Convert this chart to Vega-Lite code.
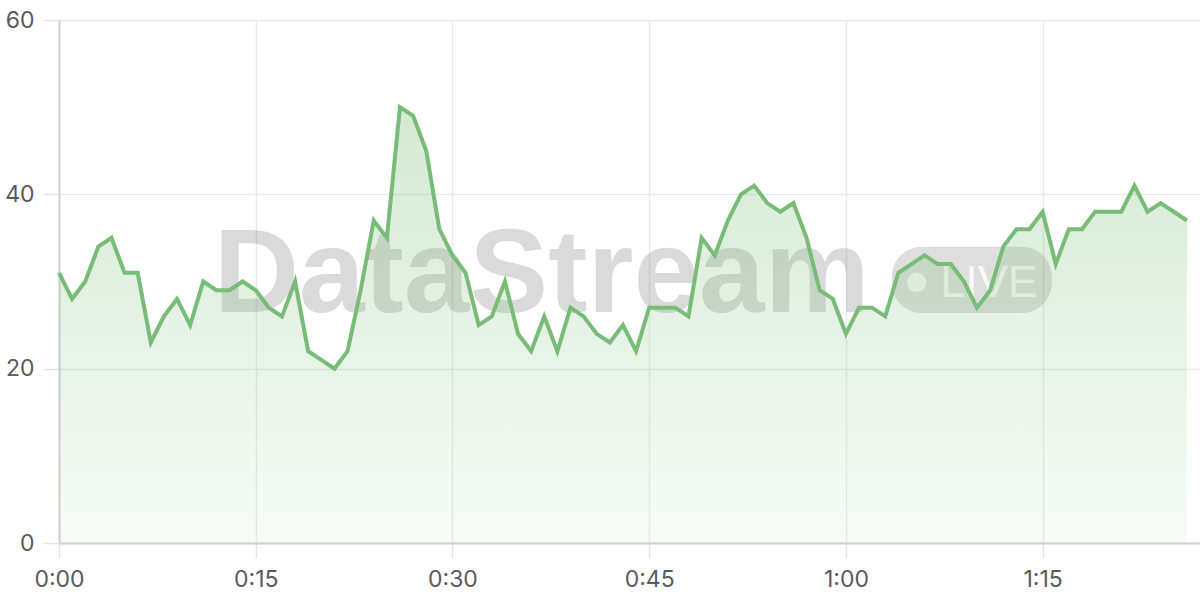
{
  "$schema": "https://vega.github.io/schema/vega-lite/v6.json",
  "width": 1141,
  "height": 523,
  "autosize": "none",
  "padding": {"left": 59, "top": 20, "right": 0, "bottom": 57},
  "background": "white",
  "config": {
    "view": {"stroke": null},
    "axis": {
      "labelFont": "Inter",
      "labelFontSize": 23,
      "labelColor": "#5a5a5a",
      "gridColor": "#ebebeb",
      "gridWidth": 1.5,
      "tickColor": "#e4e4e4",
      "tickWidth": 1.5,
      "domainColor": "#d2d2d2",
      "domainWidth": 2
    }
  },
  "data": {"values": [
    {"minute": 0, "value": 31}, {"minute": 1, "value": 28}, {"minute": 2, "value": 30}, {"minute": 3, "value": 34}, {"minute": 4, "value": 35},
    {"minute": 5, "value": 31}, {"minute": 6, "value": 31}, {"minute": 7, "value": 23}, {"minute": 8, "value": 26}, {"minute": 9, "value": 28},
    {"minute": 10, "value": 25}, {"minute": 11, "value": 30}, {"minute": 12, "value": 29}, {"minute": 13, "value": 29}, {"minute": 14, "value": 30},
    {"minute": 15, "value": 29}, {"minute": 16, "value": 27}, {"minute": 17, "value": 26}, {"minute": 18, "value": 30}, {"minute": 19, "value": 22},
    {"minute": 20, "value": 21}, {"minute": 21, "value": 20}, {"minute": 22, "value": 22}, {"minute": 23, "value": 29}, {"minute": 24, "value": 37},
    {"minute": 25, "value": 35}, {"minute": 26, "value": 50}, {"minute": 27, "value": 49}, {"minute": 28, "value": 45}, {"minute": 29, "value": 36},
    {"minute": 30, "value": 33}, {"minute": 31, "value": 31}, {"minute": 32, "value": 25}, {"minute": 33, "value": 26}, {"minute": 34, "value": 30},
    {"minute": 35, "value": 24}, {"minute": 36, "value": 22}, {"minute": 37, "value": 26}, {"minute": 38, "value": 22}, {"minute": 39, "value": 27},
    {"minute": 40, "value": 26}, {"minute": 41, "value": 24}, {"minute": 42, "value": 23}, {"minute": 43, "value": 25}, {"minute": 44, "value": 22},
    {"minute": 45, "value": 27}, {"minute": 46, "value": 27}, {"minute": 47, "value": 27}, {"minute": 48, "value": 26}, {"minute": 49, "value": 35},
    {"minute": 50, "value": 33}, {"minute": 51, "value": 37}, {"minute": 52, "value": 40}, {"minute": 53, "value": 41}, {"minute": 54, "value": 39},
    {"minute": 55, "value": 38}, {"minute": 56, "value": 39}, {"minute": 57, "value": 35}, {"minute": 58, "value": 29}, {"minute": 59, "value": 28},
    {"minute": 60, "value": 24}, {"minute": 61, "value": 27}, {"minute": 62, "value": 27}, {"minute": 63, "value": 26}, {"minute": 64, "value": 31},
    {"minute": 65, "value": 32}, {"minute": 66, "value": 33}, {"minute": 67, "value": 32}, {"minute": 68, "value": 32}, {"minute": 69, "value": 30},
    {"minute": 70, "value": 27}, {"minute": 71, "value": 29}, {"minute": 72, "value": 34}, {"minute": 73, "value": 36}, {"minute": 74, "value": 36},
    {"minute": 75, "value": 38}, {"minute": 76, "value": 32}, {"minute": 77, "value": 36}, {"minute": 78, "value": 36}, {"minute": 79, "value": 38},
    {"minute": 80, "value": 38}, {"minute": 81, "value": 38}, {"minute": 82, "value": 41}, {"minute": 83, "value": 38}, {"minute": 84, "value": 39},
    {"minute": 85, "value": 38}, {"minute": 86, "value": 37}
  ]},
  "layer": [
    {
      "data": {"values": [{"label": "DataStream"}]},
      "mark": {"type": "text", "font": "Liberation Sans", "fontWeight": "bold", "fontSize": 118, "align": "center", "baseline": "alphabetic", "color": "#000000", "opacity": 0.14},
      "encoding": {
        "x": {
          "datum": 36.8, "type": "quantitative",
          "scale": {"domain": [0, 87], "nice": false},
          "axis": {
            "values": [0, 15, 30, 45, 60, 75],
            "labelExpr": "floor(datum.value / 60) + ':' + (datum.value % 60 < 10 ? '0' : '') + (datum.value % 60)",
            "tickSize": 15, "labelPadding": 10, "title": null, "grid": true, "labelFlush": false
          }
        },
        "y": {
          "datum": 26.5, "type": "quantitative",
          "scale": {"domain": [0, 60], "nice": false},
          "axis": {"values": [0, 20, 40, 60], "tickSize": 16, "labelPadding": 9, "title": null, "grid": true}
        },
        "text": {"field": "label"}
      }
    },
    {
      "data": {"values": [{"label": "badge"}]},
      "mark": {"type": "rect", "cornerRadius": 30, "color": "#000000", "opacity": 0.13},
      "encoding": {
        "x": {"datum": 63.5, "type": "quantitative", "title": null},
        "x2": {"datum": 75.7},
        "y": {"datum": 34, "type": "quantitative", "title": null},
        "y2": {"datum": 26.4}
      }
    },
    {
      "data": {"values": [{"label": "dot"}]},
      "mark": {"type": "point", "filled": true, "size": 380, "color": "#ffffff", "opacity": 0.8},
      "encoding": {
        "x": {"datum": 65.4, "type": "quantitative", "title": null},
        "y": {"datum": 29.9, "type": "quantitative", "title": null}
      }
    },
    {
      "data": {"values": [{"label": "LIVE"}]},
      "mark": {"type": "text", "font": "Liberation Sans", "fontSize": 45, "align": "left", "baseline": "alphabetic", "color": "#ffffff", "opacity": 0.85},
      "encoding": {
        "x": {"datum": 67.2, "type": "quantitative", "title": null},
        "y": {"datum": 28.2, "type": "quantitative", "title": null},
        "text": {"field": "label"}
      }
    },
    {
      "mark": {
        "type": "area",
        "color": {
          "gradient": "linear", "x1": 0, "y1": 0, "x2": 0, "y2": 1,
          "stops": [
            {"offset": 0, "color": "rgba(120,188,120,0.32)"},
            {"offset": 1, "color": "rgba(120,188,120,0.06)"}
          ]
        }
      },
      "encoding": {
        "x": {"field": "minute", "type": "quantitative", "title": null},
        "y": {"field": "value", "type": "quantitative", "title": null}
      }
    },
    {
      "mark": {"type": "line", "color": "#78bc78", "strokeWidth": 4, "strokeJoin": "miter"},
      "encoding": {
        "x": {"field": "minute", "type": "quantitative", "title": null},
        "y": {"field": "value", "type": "quantitative", "title": null}
      }
    }
  ]
}
